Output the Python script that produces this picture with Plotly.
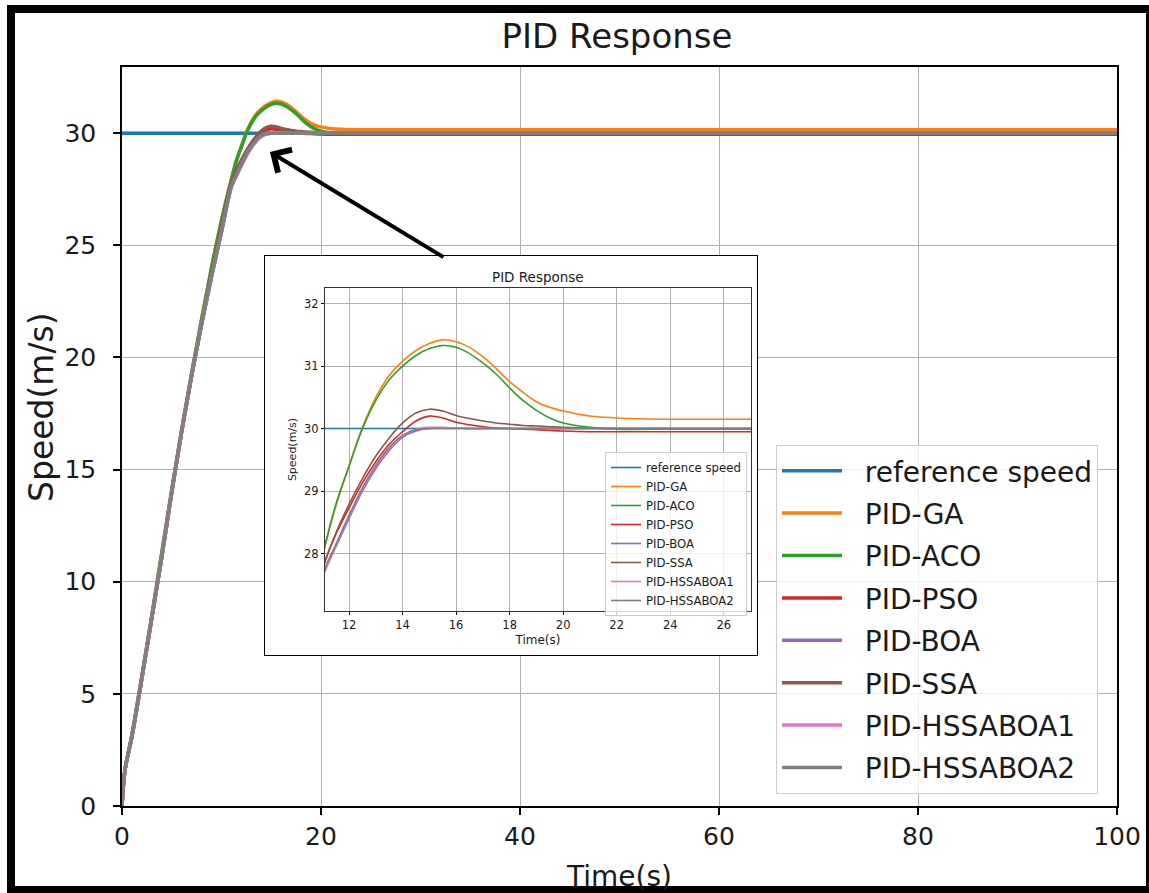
import plotly.graph_objects as go

# ---------------- data ----------------
t = [0, 0.3, 1, 2, 3, 4, 5, 6, 7, 8, 9, 10, 11, 11.5, 12, 12.5, 13, 13.5, 14, 14.5, 15, 15.5,
     16, 16.5, 17, 17.5, 18, 18.5, 19, 19.5, 20, 21, 22, 24, 26, 28, 40, 60, 80, 100]
ref_t = [0, 100]
ref_v = [30, 30]
pid_ga = [0, 1.6, 3.2, 5.8, 8.5, 11.3, 14.1, 16.8, 19.3, 21.7, 24.0, 26.1,
          27.95, 28.75, 29.4, 30.02, 30.5, 30.85, 31.08, 31.25, 31.36, 31.42, 31.39, 31.3,
          31.15, 30.96, 30.75, 30.58, 30.43, 30.34, 30.28, 30.2, 30.17,
          30.15, 30.15, 30.15, 30.15, 30.15, 30.15, 30.15]
pid_aco = [0, 1.6, 3.2, 5.8, 8.5, 11.3, 14.1, 16.8, 19.3, 21.7, 24.0, 26.1,
           27.95, 28.78, 29.4, 30.0, 30.45, 30.78, 31.0, 31.17, 31.28, 31.33, 31.3, 31.2,
           31.05, 30.87, 30.65, 30.45, 30.29, 30.17, 30.09, 30.02, 29.99,
           29.99, 29.99, 29.99, 29.99, 29.99, 29.99, 29.99]
pid_pso = [0, 1.6, 3.1, 5.7, 8.4, 11.1, 14.0, 16.7, 19.2, 21.5, 23.7, 25.8,
           27.75, 28.3, 28.73, 29.13, 29.47, 29.75, 29.95, 30.12, 30.2, 30.17, 30.1, 30.06,
           30.03, 30.01, 30.0, 29.99, 29.98, 29.97, 29.96, 29.95, 29.95,
           29.95, 29.95, 29.95, 29.95, 29.95, 29.95, 29.95]
pid_boa = [0, 1.6, 3.1, 5.7, 8.4, 11.1, 14.0, 16.7, 19.2, 21.5, 23.6, 25.6,
           27.6, 28.1, 28.56, 29.0, 29.36, 29.65, 29.86, 29.96, 30.0, 30.01, 30.01, 30.0,
           30.0, 30.0, 30.0, 30.0, 30.0, 30.0, 30.0, 30.0, 30.0,
           30.0, 30.0, 30.0, 30.0, 30.0, 30.0, 30.0]
pid_ssa = [0, 1.6, 3.1, 5.7, 8.4, 11.1, 14.0, 16.7, 19.2, 21.5, 23.7, 25.8,
           27.72, 28.32, 28.79, 29.2, 29.56, 29.85, 30.09, 30.25, 30.31, 30.28, 30.21, 30.16,
           30.12, 30.09, 30.07, 30.05, 30.04, 30.03, 30.02, 30.01, 30.0,
           30.0, 30.0, 30.0, 30.0, 30.0, 30.0, 30.0]
pid_h1 = [0, 1.6, 3.1, 5.7, 8.4, 11.1, 14.0, 16.7, 19.2, 21.5, 23.6, 25.6,
          27.62, 28.12, 28.59, 29.03, 29.39, 29.68, 29.89, 29.99, 30.02, 30.02, 30.01, 30.0,
          30.0, 30.0, 30.0, 30.0, 30.0, 30.0, 30.0, 30.0, 30.0,
          30.0, 30.0, 30.0, 30.0, 30.0, 30.0, 30.0]
pid_h2 = [0, 1.6, 3.1, 5.7, 8.4, 11.1, 14.0, 16.7, 19.2, 21.5, 23.6, 25.6,
          27.64, 28.14, 28.61, 29.05, 29.41, 29.7, 29.89, 29.98, 30.0, 30.0, 30.0, 30.0,
          30.0, 30.0, 30.0, 30.0, 30.0, 30.0, 30.0, 30.0, 30.0,
          30.0, 30.0, 30.0, 30.0, 30.0, 30.0, 30.0]

names = ["reference speed", "PID-GA", "PID-ACO", "PID-PSO", "PID-BOA", "PID-SSA",
         "PID-HSSABOA1", "PID-HSSABOA2"]
colors = ["#1f77b4", "#ff7f0e", "#2ca02c", "#d62728", "#9467bd", "#8c564b", "#e377c2", "#7f7f7f"]
series_x = [ref_t, t, t, t, t, t, t, t]
series_y = [ref_v, pid_ga, pid_aco, pid_pso, pid_boa, pid_ssa, pid_h1, pid_h2]

main_xticks = [0, 20, 40, 60, 80, 100]
main_yticks = [0, 5, 10, 15, 20, 25, 30]
inset_xticks = [12, 14, 16, 18, 20, 22, 24, 26]
inset_yticks = [28, 29, 30, 31, 32]

# ---------------- geometry helpers ----------------
W, H = 1149, 893
L, R, T, B = 122, 1117, 67, 806


def px(x):
    return (x - L) / (R - L)


def py(y):
    return (B - y) / (B - T)


FONT = "DejaVu Sans"
NB = "\u00a0\u00a0"
fig = go.Figure()

for i in range(len(names)):
    fig.add_trace(go.Scatter(
        x=series_x[i], y=series_y[i], name=NB + names[i], mode="lines",
        line=dict(color=colors[i], width=3.5, shape="spline", smoothing=1.0),
        xaxis="x", yaxis="y", legend="legend", legendgroup="m%d" % i))

# white inset frame subplot (empty)
fig.add_trace(go.Scatter(x=[], y=[], xaxis="x2", yaxis="y2", showlegend=False,
                         hoverinfo="skip"))

for i in range(len(names)):
    fig.add_trace(go.Scatter(
        x=series_x[i], y=series_y[i], name=names[i], mode="lines",
        line=dict(color=colors[i], width=1.6, shape="spline", smoothing=1.0),
        xaxis="x3", yaxis="y3", legend="legend2"))

axis_common = dict(showgrid=True, gridcolor="#b0b0b0", gridwidth=1, zeroline=False,
                   showline=True, linecolor="black", mirror=True, ticks="outside",
                   tickcolor="black", automargin=False)

fig.update_layout(
    width=W, height=H, autosize=False,
    margin=dict(l=L, r=W - R, t=T, b=H - B, pad=0, autoexpand=False),
    paper_bgcolor="white", plot_bgcolor="white",
    font=dict(family=FONT, color="#1a1a1a"),
    title=dict(text="PID Response", font=dict(size=34, family=FONT, color="#1a1a1a"),
               x=px(617), xref="paper", xanchor="center",
               y=1 - 36 / H, yref="container", yanchor="middle", automargin=False),
    xaxis=dict(domain=[0, 1], anchor="y", range=[0, 100], tickvals=main_xticks,
               linewidth=1.5, ticklen=7, tickwidth=1.5, tickfont=dict(size=25),
               title=dict(text="Time(s)", font=dict(size=28), standoff=18),
               **axis_common),
    yaxis=dict(domain=[0, 1], anchor="x", range=[0, 32.95], tickvals=main_yticks,
               linewidth=1.5, ticklen=7, tickwidth=1.5, tickfont=dict(size=25),
               ticklabelstandoff=12, **axis_common),
    xaxis2=dict(domain=[px(265), px(757)], anchor="y2", range=[0, 1], showgrid=False,
                zeroline=False, showticklabels=False, ticks="", showline=True,
                linecolor="black", linewidth=1, mirror=True, automargin=False),
    yaxis2=dict(domain=[py(655), py(256)], anchor="x2", range=[0, 1], showgrid=False,
                zeroline=False, showticklabels=False, ticks="", showline=True,
                linecolor="black", linewidth=1, mirror=True, automargin=False),
    xaxis3=dict(domain=[px(325), px(751)], anchor="y3", range=[11.1, 27.02],
                tickvals=inset_xticks, linewidth=1, ticklen=3, tickwidth=1,
                tickfont=dict(size=11.5),
                title=dict(text="Time(s)", font=dict(size=12), standoff=4),
                **{**axis_common, "linecolor": "#333333"}),
    yaxis3=dict(domain=[py(611), py(288)], anchor="x3", range=[27.08, 32.25],
                tickvals=inset_yticks, linewidth=1, ticklen=3, tickwidth=1,
                tickfont=dict(size=11.5),
                title=dict(text="Speed(m/s)", font=dict(size=11), standoff=5),
                **{**axis_common, "linecolor": "#333333"}),
    legend=dict(x=px(776), y=py(445), xanchor="left", yanchor="top",
                font=dict(size=28, color="#1a1a1a"), bgcolor="rgba(255,255,255,0.8)",
                bordercolor="#cccccc", borderwidth=1, tracegroupgap=3, itemwidth=60,
                traceorder="grouped"),
    legend2=dict(x=px(605), y=py(452), xanchor="left", yanchor="top",
                 font=dict(size=11.7, color="#1a1a1a"), bgcolor="rgba(255,255,255,0.8)",
                 bordercolor="#cccccc", borderwidth=1, tracegroupgap=0, itemwidth=30,
                 traceorder="normal"),
    showlegend=True,
)

# main y-axis label
fig.add_annotation(text="Speed(m/s)", x=px(41), y=py(407), xref="paper", yref="paper",
                   showarrow=False, xanchor="center", yanchor="middle", textangle=-90,
                   font=dict(size=33, family=FONT, color="#1a1a1a"))

# inset title
fig.add_annotation(text="PID Response", x=px(538), y=py(277), xref="paper", yref="paper",
                   showarrow=False, xanchor="center", yanchor="middle",
                   font=dict(size=13.5, family=FONT, color="#1a1a1a"))

# pointer arrow
fig.add_annotation(x=14.87, y=29.16, xref="x", yref="y", ax=175, ay=106,
                   axref="pixel", ayref="pixel", text="", showarrow=True,
                   arrowhead=4, arrowsize=1.3, arrowwidth=4, arrowcolor="black")

# outer black frame
frame = [(7, 5, 1149, 13), (7, 5, 15, 893), (7, 886, 1149, 893), (1146, 5, 1149, 893)]
for x0, y0, x1, y1 in frame:
    fig.add_shape(type="rect", xref="paper", yref="paper", x0=px(x0), x1=px(x1),
                  y0=py(y1), y1=py(y0), fillcolor="black", line=dict(width=0),
                  layer="above")

fig.write_html(
    "out.html",
    config={"displayModeBar": False},
    post_script=("document.documentElement.style.margin='0px';"
                 "document.documentElement.style.overflow='hidden';"
                 "document.body.style.margin='0px';document.body.style.padding='0px';"
                 "document.body.style.overflow='hidden';"))
